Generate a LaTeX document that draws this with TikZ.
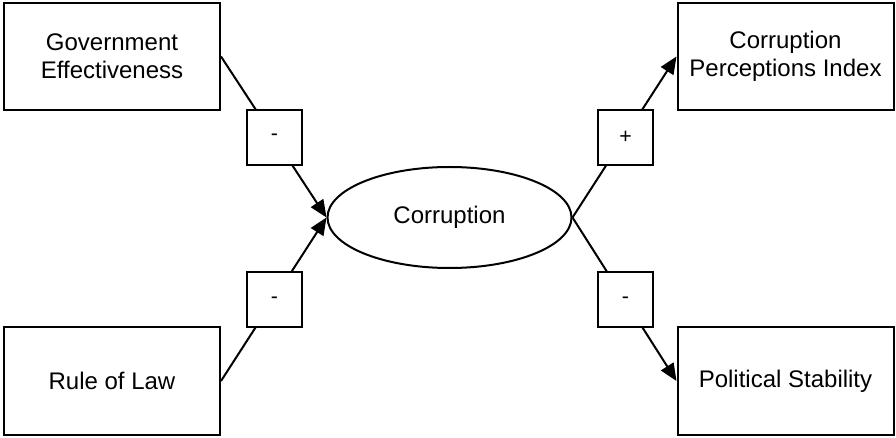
\documentclass[tikz,border=0pt]{standalone}
\usepackage{fontspec}
\setmainfont{Liberation Sans}
\usetikzlibrary{arrows.meta,shapes.geometric}
\begin{document}
\begin{tikzpicture}[x=0.75pt,y=-0.75pt,
  every node/.style={font=\fontsize{18}{21}\selectfont},
  varbox/.style={draw,line width=1.5pt,minimum width=216*0.75pt,minimum height=107*0.75pt,align=center,inner sep=0pt,fill=white},
  signbox/.style={draw,line width=1.5pt,minimum width=55*0.75pt,minimum height=55*0.75pt,inner sep=0pt,fill=white,font=\fontsize{16}{18}\selectfont},
  conn/.style={line width=1.5pt},
  arr/.style={conn,-{Triangle[length=13pt,width=11pt]}}]
\useasboundingbox (0,0) rectangle (896,438);
\node[varbox] (ge) at (112,56.5) {Government\\Effectiveness};
\node[varbox] (rl) at (112,381) {Rule of Law};
\node[varbox] (cpi) at (785.5,56.5) {Corruption\\Perceptions Index};
\node[varbox] (ps) at (785.5,381) {Political Stability};
\node[draw,ellipse,line width=1.5pt,minimum width=244*0.75pt,minimum height=101*0.75pt,inner sep=0pt] (c) at (449.5,217.5) {Corruption};
\coordinate (geo) at (ge.east);
\coordinate (rlo) at (rl.east);
\draw[arr] (geo) -- (c.west);
\draw[arr] (rlo) -- (c.west);
\draw[arr] (c.east) -- (cpi.west);
\draw[arr] (c.east) -- (ps.west);
\node[signbox] (s1) at (274.5,137.5) {-};
\node[signbox] (s2) at (274.5,300) {-};
\node[signbox] (s3) at (625.5,137.5) {+};
\node[signbox] (s4) at (625.5,300) {-};
\end{tikzpicture}
\end{document}
